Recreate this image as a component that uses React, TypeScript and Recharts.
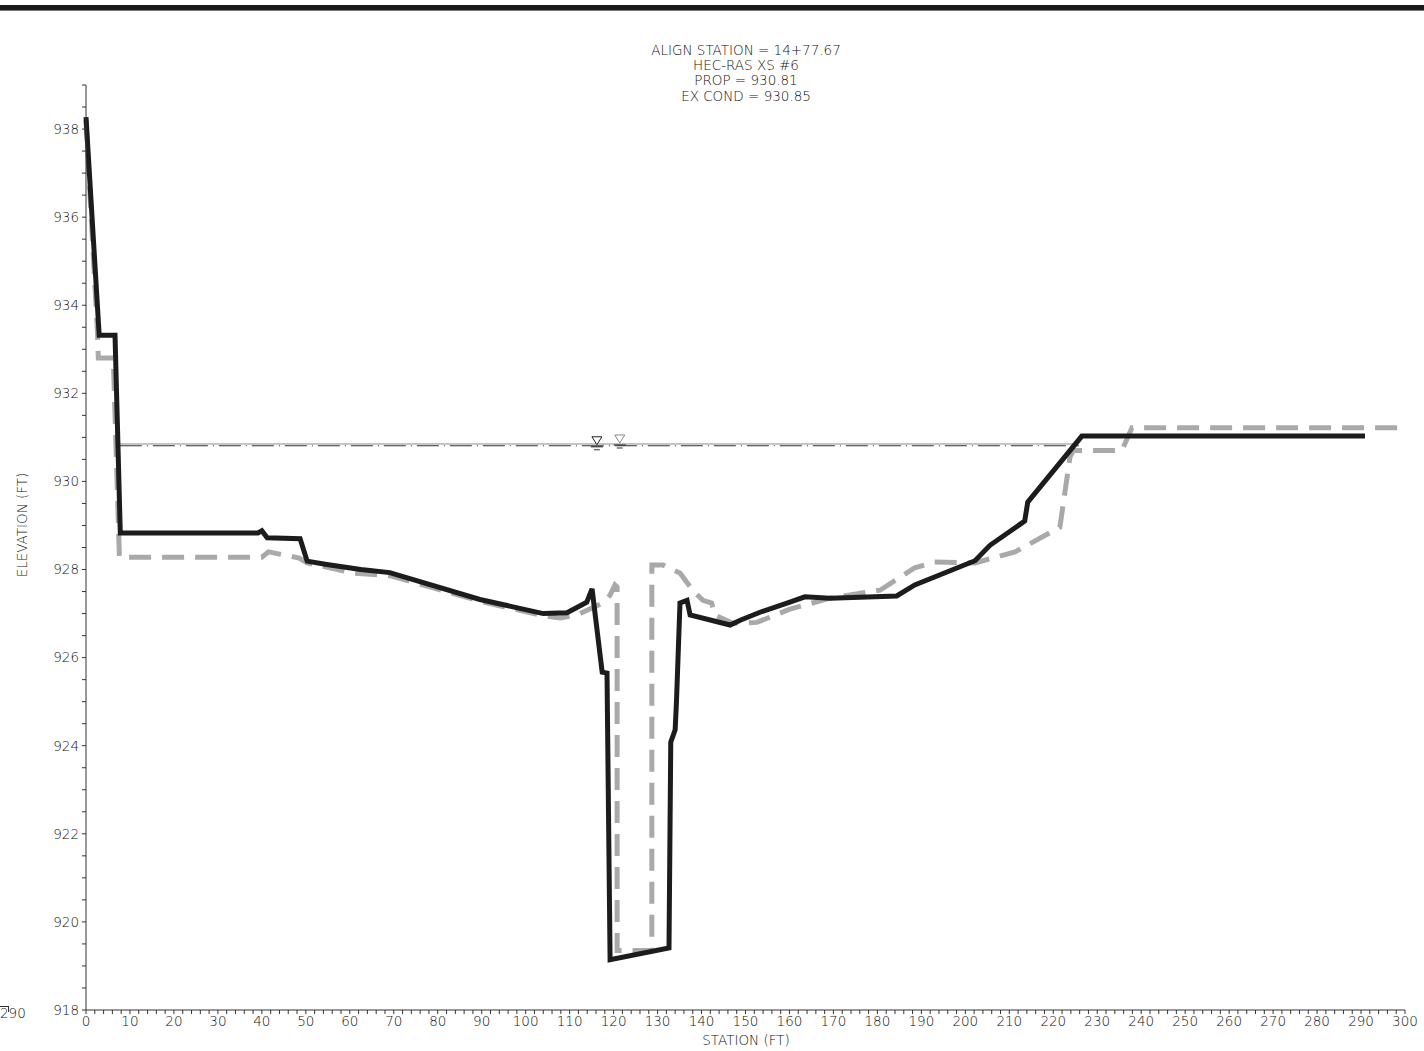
import React from "react";
import {
  ComposedChart,
  Line,
  Scatter,
  XAxis,
  YAxis,
} from "recharts";

// proposed ground (solid black)
const propStations = [
  0, 3.0, 6.6, 7.8, 39.1, 40.0, 41.2, 48.7, 50.3, 54.4, 62.5, 69.1, 89.6, 104.0, 109.4, 113.9,
  115.1, 117.4, 118.5, 119.2, 132.6, 133.0, 134.0, 134.3, 135.1, 136.7, 137.4, 146.5, 148.8,
  153.3, 160.1, 163.5, 169.2, 184.4, 188.5, 202.2, 205.6, 213.5, 214.2, 226.5, 290.9,
];
const propElevs = [
  938.27, 933.32, 933.32, 928.83, 928.83, 928.88, 928.72, 928.7, 928.19, 928.12, 928.0, 927.93,
  927.32, 927.0, 927.02, 927.26, 927.56, 925.67, 925.65, 919.14, 919.41, 924.08, 924.36, 925.0,
  927.24, 927.3, 926.97, 926.74, 926.85, 927.03, 927.26, 927.38, 927.35, 927.4, 927.65, 928.2,
  928.55, 929.1, 929.53, 931.03, 931.03,
];

// existing ground (gray dashed)
const exStations = [
  0, 2.6, 2.8, 6.2, 7.6, 40.0, 41.5, 48.5, 50.3, 60.7, 69.1, 89.6, 104.0, 107.8, 111.7, 117.6,
  119.2, 120.3, 120.8, 120.8, 128.7, 128.7, 131.3, 135.1, 138.0, 140.3, 142.3, 143.0, 144.9,
  147.1, 152.6, 160.1, 169.2, 180.6, 188.5, 193.0, 202.2, 211.3, 221.5, 223.8, 224.5, 235.6,
  237.9, 298.4,
];
const exElevs = [
  938.2, 933.4, 932.8, 932.8, 928.28, 928.28, 928.4, 928.26, 928.15, 927.92, 927.86, 927.28,
  926.95, 926.9, 926.97, 927.24, 927.42, 927.65, 927.6, 919.35, 919.35, 928.1, 928.1, 927.92,
  927.53, 927.3, 927.24, 926.96, 926.88, 926.78, 926.8, 927.1, 927.35, 927.53, 928.04, 928.17,
  928.15, 928.4, 928.96, 930.55, 930.7, 930.7, 931.22, 931.22,
];

// water surfaces
const wsStations = [7.7, 225.8];
const propWs = 930.81;
const exWs = 930.85;
const propWsMarkStation = 116.2;
const exWsMarkStation = 121.4;

const xTicks = Array.from({ length: 151 }, (_, i) => i * 2);
const yTicks = Array.from({ length: 43 }, (_, i) => 918 + i * 0.5);

const titleLines = [
  "ALIGN STATION = 14+77.67",
  "HEC-RAS XS #6",
  `PROP = ${propWs.toFixed(2)}`,
  `EX COND = ${exWs.toFixed(2)}`,
];

const FONT = "'DejaVu Sans', sans-serif";
const TEXT = "#111";
const INK = "#1c1c1c";
const GRAY = "#a8a9ab";
const FS = 13.5;

const zip = (xs: number[], ys: number[]) => xs.map((s, i) => ({ station: s, elev: ys[i] }));

const propData = zip(propStations, propElevs);
const exData = zip(exStations, exElevs);
const propWsData = wsStations.map((s) => ({ station: s, elev: propWs }));
const exWsData = wsStations.map((s) => ({ station: s, elev: exWs }));
const propMark = [{ station: propWsMarkStation, elev: propWs }];
const exMark = [{ station: exWsMarkStation, elev: exWs }];

const XTick = (props: any) => {
  const { x, y, payload } = props;
  if (payload.value % 10 !== 0) return null;
  return (
    <text x={x} y={y} dy="0.72em" textAnchor="middle" fontFamily={FONT} fontWeight={200} fontSize={FS} fill={TEXT}>
      {payload.value}
    </text>
  );
};

const YTick = (props: any) => {
  const { x, y, payload } = props;
  if (payload.value % 2 !== 0) return null;
  return (
    <text x={x} y={y} dy="0.36em" textAnchor="end" fontFamily={FONT} fontWeight={200} fontSize={FS} fill={TEXT}>
      {payload.value}
    </text>
  );
};

const WsMark = (color: string) => (props: any) => {
  const { cx, cy } = props;
  return (
    <g>
      <path d={`M${cx - 5} ${cy - 9} L${cx + 5} ${cy - 9} L${cx} ${cy - 1} Z`} fill="#fff" stroke={color} strokeWidth={1} />
      <line x1={cx - 6} x2={cx + 6} y1={cy + 1} y2={cy + 1} stroke="#333" strokeWidth={1.2} />
      <line x1={cx - 3} x2={cx + 3} y1={cy + 4} y2={cy + 4} stroke="#333" strokeWidth={1} />
    </g>
  );
};

const textStyle: React.CSSProperties = {
  position: "absolute",
  fontSize: FS,
  fontWeight: 200,
  color: TEXT,
  whiteSpace: "pre",
};

export default function App() {
  return (
    <div style={{ position: "absolute", left: 0, top: 0, width: 1424, height: 1051, background: "#fff", fontFamily: FONT }}>
      <div style={{ position: "absolute", left: 0, top: 5, width: 1424, height: 5, background: "#1a1a1a" }} />
      <div style={{ position: "absolute", left: 0, top: 10, width: 1424, height: 1, background: "#777" }} />
      {titleLines.map((t, i) => (
        <div
          key={t}
          style={{ ...textStyle, left: 546, width: 400, top: [43, 58, 73, 89][i], textAlign: "center", lineHeight: "14px" }}
        >
          {t}
        </div>
      ))}
      <div style={{ ...textStyle, left: 22, top: 525, transform: "translate(-50%, -50%) rotate(-90deg)" }}>
        ELEVATION (FT)
      </div>
      <div style={{ ...textStyle, left: 546, width: 400, top: 1032, textAlign: "center" }}>STATION (FT)</div>
      <div style={{ position: "absolute", left: 0, top: 1006, width: 8, height: 5, borderTop: "1px solid #333", borderRight: "1px solid #333" }} />
      <div style={{ ...textStyle, left: 0, top: 1005 }}>290</div>
      <div style={{ position: "absolute", left: 0, top: 0 }}>
        <ComposedChart width={1424} height={1051} margin={{ top: 85, right: 19, bottom: 0, left: 0 }}>
          <XAxis
            type="number"
            dataKey="station"
            domain={[0, 300]}
            ticks={xTicks}
            interval={0}
            tick={<XTick />}
            tickSize={4}
            tickMargin={2}
            height={41}
            axisLine={{ stroke: "#333", strokeWidth: 1 }}
            tickLine={{ stroke: "#333", strokeWidth: 1 }}
          />
          <YAxis
            type="number"
            dataKey="elev"
            domain={[918, 939]}
            ticks={yTicks}
            interval={0}
            tick={<YTick />}
            tickSize={4}
            tickMargin={3}
            width={86}
            axisLine={{ stroke: "#333", strokeWidth: 1 }}
            tickLine={{ stroke: "#333", strokeWidth: 1 }}
          />
          <Line
            data={exWsData}
            dataKey="elev"
            type="linear"
            stroke="#8c8c8c"
            strokeWidth={1}
            dot={false}
            isAnimationActive={false}
          />
          <Line
            data={propWsData}
            dataKey="elev"
            type="linear"
            stroke="#333"
            strokeWidth={1.2}
            strokeDasharray="22 5 1 5"
            dot={false}
            isAnimationActive={false}
          />
          <Line
            data={exData}
            dataKey="elev"
            type="linear"
            stroke={GRAY}
            strokeWidth={5}
            strokeDasharray="22 11"
            strokeLinejoin="miter"
            dot={false}
            isAnimationActive={false}
          />
          <Line
            data={propData}
            dataKey="elev"
            type="linear"
            stroke={INK}
            strokeWidth={5}
            strokeLinejoin="miter"
            dot={false}
            isAnimationActive={false}
          />
          <Scatter data={propMark} dataKey="elev" shape={WsMark("#222")} isAnimationActive={false} />
          <Scatter data={exMark} dataKey="elev" shape={WsMark("#888")} isAnimationActive={false} />
        </ComposedChart>
      </div>
    </div>
  );
}
